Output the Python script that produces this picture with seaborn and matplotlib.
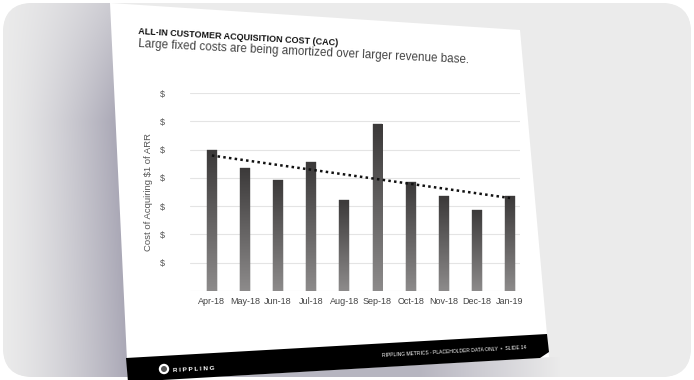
import numpy as np
import matplotlib
matplotlib.use("Agg")
import matplotlib.pyplot as plt
from matplotlib.patches import FancyBboxPatch, Polygon, Circle
from matplotlib.colors import LinearSegmentedColormap, to_rgb
import seaborn as sns

# Data
months = ["Apr-18", "May-18", "Jun-18", "Jul-18", "Aug-18",
          "Sep-18", "Oct-18", "Nov-18", "Dec-18", "Jan-19"]
cac = [5.0, 4.35, 3.94, 4.55, 3.23, 5.89, 3.84, 3.35, 2.88, 3.35]
y_ticks = [0, 1, 2, 3, 4, 5, 6, 7]
y_tick_labels = ["", r"\$", r"\$", r"\$", r"\$", r"\$", r"\$", r"\$"]

title = "ALL-IN CUSTOMER ACQUISITION COST (CAC)"
subtitle = "Large fixed costs are being amortized over larger revenue base."
ylabel = r"Cost of Acquiring \$1 of ARR"
footer = "RIPPLING METRICS - PLACEHOLDER DATA ONLY  •  SLIDE 14"

sns.set_theme(style="white")
plt.rcParams["font.family"] = ["Liberation Sans", "DejaVu Sans"]

W, H = 694, 380
fig = plt.figure(figsize=(W / 100, H / 100), dpi=100)
fig.patch.set_facecolor("white")

# Background layer in pixel coordinates
bg = fig.add_axes([0, 0, 1, 1])
bg.set_xlim(0, W)
bg.set_ylim(H, 0)
bg.axis("off")

card = FancyBboxPatch((3, 3), W - 6, H - 6, boxstyle="round,pad=0,rounding_size=30",
                      fc="#ebebeb", ec="none", zorder=0)
bg.add_patch(card)

# soft shadow around the tilted slide
xx, yy = np.meshgrid(np.arange(W), np.arange(H))
left_edge = 110 + (yy - 3) * (18 / 377)
shade = np.where(xx < left_edge,
                 np.clip(xx / left_edge, 0, 1) ** 1.4 * np.clip(0.45 + yy / 220, 0, 1), 0.0)
foot_edge = 380 - (xx - 128) * (23 / 421)
below = np.clip((560 - xx) / 140, 0, 1) * 0.8
shade = np.maximum(shade, np.where(yy > foot_edge, below, 0.0))
c0, c1 = np.array(to_rgb("#ebebeb")), np.array(to_rgb("#aaa8b6"))
rgb = c0[None, None, :] * (1 - shade[..., None]) + c1[None, None, :] * shade[..., None]
im = bg.imshow(rgb, extent=(0, W, H, 0), aspect="auto", zorder=1)
im.set_clip_path(card)
bg.set_xlim(0, W)
bg.set_ylim(H, 0)

slide = Polygon([(110, 3), (520, 30), (549, 357), (128, 382)], closed=True,
                fc="white", ec="none", zorder=2)
bg.add_patch(slide)
bar_poly = Polygon([(126, 358), (547, 334), (549, 352), (540, 358), (128, 382)], closed=True,
                   fc="black", ec="none", zorder=3)
bg.add_patch(bar_poly)

bg.text(138, 34, title, fontsize=6.5, fontweight="bold", color="#111",
        rotation=-3.3, rotation_mode="anchor", ha="left", va="baseline", zorder=4)
bg.text(138, 47, subtitle, fontsize=8.4, color="#444",
        rotation=-2.8, rotation_mode="anchor", ha="left", va="baseline", zorder=4)

bg.add_patch(Circle((164, 369), 5.2, fc="white", ec="none", zorder=4))
bg.add_patch(Circle((164, 369), 3.0, fc="#555", ec="none", zorder=5))
bg.text(173, 372, "R I P P L I N G", fontsize=4.6, fontweight="bold", color="white",
        rotation=3, rotation_mode="anchor", ha="left", va="baseline", zorder=4)
bg.text(382, 357, footer, fontsize=3.6, color="white",
        rotation=3.2, rotation_mode="anchor", ha="left", va="baseline", zorder=4)

# Chart
ax = fig.add_axes([190 / W, 1 - 291 / H, (520 - 190) / W, (291 - 93) / H])
ax.patch.set_alpha(0)
sns.barplot(x=months, y=cac, ax=ax, width=0.3, color="#666", edgecolor="#555",
            linewidth=0.3, zorder=3)

grad = np.linspace(0, 1, 256)[:, None]
bar_cmap = LinearSegmentedColormap.from_list("bar", ["#3b3939", "#8d8b8b"])
for p in list(ax.patches):
    x0, y0 = p.get_x(), p.get_y()
    w, h = p.get_width(), p.get_height()
    g = ax.imshow(grad, extent=(x0, x0 + w, y0, y0 + h), cmap=bar_cmap,
                  aspect="auto", zorder=3.5)
    g.set_clip_path(p)

sns.regplot(x=np.arange(len(months)), y=cac, ax=ax, scatter=False, ci=None,
            truncate=True, line_kws=dict(ls=(0, (1, 1.3)), lw=1.8, color="#111", zorder=5))

ax.set_xlim(-0.66, 9.3)
ax.set_ylim(0, 7)
ax.set_yticks(y_ticks)
ax.set_yticklabels(y_tick_labels)
ax.yaxis.grid(True, color="#e4e4e4", lw=0.8)
ax.set_axisbelow(True)
sns.despine(ax=ax, left=True, bottom=True)
ax.tick_params(axis="y", length=0, pad=18, labelsize=6.5, labelcolor="#555")
ax.tick_params(axis="x", length=0, pad=4, labelsize=6.5, labelcolor="#444")
ax.set_xticks(range(len(months)))
ax.set_xticklabels(months)
ax.set_xlabel("")
ax.set_ylabel(ylabel, fontsize=6.8, color="#555")
ax.yaxis.set_label_coords(-37 / 330, 0.5)

fig.savefig("out.png", dpi=100)
